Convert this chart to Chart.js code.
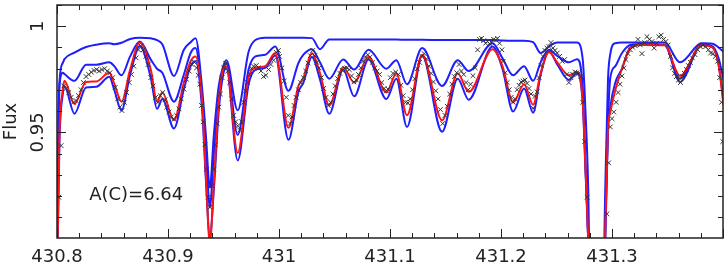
<!DOCTYPE html>
<html>
<head>
<meta charset="utf-8">
<script src="https://cdn.jsdelivr.net/npm/chart.js@4.4.1/dist/chart.umd.min.js"></script>
<style>
  html, body { margin: 0; padding: 0; background: #fff; }
  #wrap { width: 728px; height: 263px; position: relative; }
</style>
</head>
<body>
<div id="wrap"><canvas id="spectrumChart"></canvas></div>
<script>
// Model grid (nm) and fluxes for the four synthetic spectra
const wave = [
  430.8000, 430.8022, 430.8052, 430.8067, 430.8157, 430.8262, 430.8354, 430.8471, 430.8516, 430.8581,
  430.8659, 430.8746, 430.8845, 430.8901, 430.8949, 430.9054, 430.9143, 430.9204, 430.9248, 430.9308,
  430.9341, 430.9377, 430.9413, 430.9457, 430.9496, 430.9526, 430.9628, 430.9726, 430.9787, 430.9876,
  430.9966, 431.0085, 431.0175, 431.0220, 431.0296, 431.0369, 431.0453, 431.0578, 431.0677, 431.0807,
  431.0967, 431.1057, 431.1153, 431.1290, 431.1469, 431.1610, 431.1709, 431.1924, 431.2013, 431.2109,
  431.2208, 431.2289, 431.2357, 431.2432, 431.2507, 431.2612, 431.2686, 431.2737, 431.2761, 431.2785,
  431.2812, 431.2910, 431.2940, 431.2964, 431.2985, 431.3030, 431.3090, 431.3164, 431.3269, 431.3475,
  431.3613, 431.3807, 431.3906, 431.3960, 431.4004
];
const fluxTop = [
  0.9000, 0.9735, 0.9827, 0.9845, 0.9876, 0.9902, 0.9913, 0.9920, 0.9915, 0.9922,
  0.9940, 0.9946, 0.9943, 0.9935, 0.9915, 0.9766, 0.9889, 0.9925, 0.9943, 0.9704,
  0.9488, 0.9241, 0.9488, 0.9719, 0.9810, 0.9840, 0.9604, 0.9880, 0.9935, 0.9946,
  0.9946, 0.9946, 0.9946, 0.9946, 0.9944, 0.9892, 0.9938, 0.9938, 0.9938, 0.9938,
  0.9937, 0.9937, 0.9936, 0.9936, 0.9935, 0.9935, 0.9935, 0.9935, 0.9933, 0.9932,
  0.9932, 0.9925, 0.9874, 0.9905, 0.9923, 0.9923, 0.9923, 0.9840, 0.9600, 0.9250,
  0.8500, 0.8500, 0.9250, 0.9750, 0.9870, 0.9920, 0.9923, 0.9923, 0.9923, 0.9923,
  0.9830, 0.9920, 0.9918, 0.9900, 0.9880
];
const fluxMid = [
  0.8900, 0.9719, 0.9781, 0.9775, 0.9743, 0.9819, 0.9819, 0.9830, 0.9812, 0.9769,
  0.9858, 0.9928, 0.9843, 0.9800, 0.9781, 0.9645, 0.9773, 0.9874, 0.9897, 0.9660,
  0.9430, 0.9148, 0.9400, 0.9650, 0.9790, 0.9827, 0.9488, 0.9796, 0.9858, 0.9866,
  0.9905, 0.9696, 0.9827, 0.9866, 0.9892, 0.9830, 0.9753, 0.9843, 0.9796, 0.9889,
  0.9800, 0.9840, 0.9727, 0.9897, 0.9719, 0.9840, 0.9789, 0.9920, 0.9850, 0.9769,
  0.9812, 0.9743, 0.9830, 0.9889, 0.9860, 0.9830, 0.9845, 0.9700, 0.9350, 0.9007,
  0.8500, 0.8500, 0.9050, 0.9550, 0.9758, 0.9812, 0.9874, 0.9912, 0.9915, 0.9912,
  0.9753, 0.9915, 0.9905, 0.9850, 0.9750
];
const fluxFit = [
  0.8800, 0.9489, 0.9700, 0.9743, 0.9634, 0.9738, 0.9740, 0.9781, 0.9730, 0.9645,
  0.9796, 0.9923, 0.9796, 0.9645, 0.9688, 0.9557, 0.9735, 0.9835, 0.9858, 0.9642,
  0.9300, 0.8980, 0.9260, 0.9642, 0.9796, 0.9812, 0.9403, 0.9758, 0.9804, 0.9812,
  0.9874, 0.9522, 0.9719, 0.9758, 0.9874, 0.9780, 0.9627, 0.9807, 0.9735, 0.9855,
  0.9688, 0.9778, 0.9581, 0.9866, 0.9557, 0.9778, 0.9691, 0.9892, 0.9812, 0.9642,
  0.9727, 0.9630, 0.9780, 0.9877, 0.9830, 0.9769, 0.9784, 0.9642, 0.9333, 0.9007,
  0.8500, 0.8500, 0.9050, 0.9519, 0.9596, 0.9700, 0.9800, 0.9897, 0.9912, 0.9910,
  0.9766, 0.9911, 0.9900, 0.9820, 0.9630
];
const fluxLow = [
  0.8750, 0.9450, 0.9680, 0.9719, 0.9588, 0.9712, 0.9715, 0.9762, 0.9700, 0.9604,
  0.9773, 0.9907, 0.9758, 0.9611, 0.9657, 0.9519, 0.9704, 0.9812, 0.9835, 0.9600,
  0.9280, 0.9010, 0.9230, 0.9600, 0.9770, 0.9804, 0.9368, 0.9727, 0.9795, 0.9804,
  0.9862, 0.9465, 0.9691, 0.9735, 0.9855, 0.9750, 0.9588, 0.9796, 0.9670, 0.9843,
  0.9657, 0.9753, 0.9526, 0.9861, 0.9503, 0.9753, 0.9654, 0.9905, 0.9800, 0.9599,
  0.9707, 0.9593, 0.9770, 0.9882, 0.9820, 0.9747, 0.9778, 0.9630, 0.9320, 0.9000,
  0.8500, 0.8500, 0.9000, 0.9500, 0.9620, 0.9735, 0.9800, 0.9900, 0.9915, 0.9912,
  0.9738, 0.9913, 0.9900, 0.9820, 0.9650
];

// Observed spectrum (crosses)
const obsWave = [
  430.8016, 430.8037, 430.8061, 430.8082, 430.8106, 430.8127, 430.8148, 430.8172, 430.8193, 430.8217,
  430.8238, 430.8262, 430.8286, 430.8309, 430.8333, 430.8357, 430.8381, 430.8405, 430.8429, 430.8453,
  430.8477, 430.8501, 430.8525, 430.8546, 430.8567, 430.8585, 430.8606, 430.8627, 430.8650, 430.8671,
  430.8692, 430.8713, 430.8734, 430.8755, 430.8776, 430.8800, 430.8821, 430.8845, 430.8865, 430.8889,
  430.8910, 430.8931, 430.8952, 430.8973, 430.8988, 430.9009, 430.9030, 430.9054, 430.9078, 430.9099,
  430.9119, 430.9143, 430.9167, 430.9191, 430.9215, 430.9239, 430.9257, 430.9272, 430.9287, 430.9302,
  430.9317, 430.9332, 430.9347, 430.9362, 430.9377, 430.9398, 430.9413, 430.9428, 430.9442, 430.9457,
  430.9472, 430.9487, 430.9502, 430.9520, 430.9538, 430.9556, 430.9574, 430.9592, 430.9610, 430.9628,
  430.9646, 430.9664, 430.9682, 430.9700, 430.9717, 430.9735, 430.9753, 430.9771, 430.9795, 430.9816,
  430.9837, 430.9861, 430.9882, 430.9906, 430.9927, 430.9951, 430.9975, 430.9995, 431.0005, 431.0026,
  431.0047, 431.0065, 431.0083, 431.0100, 431.0118, 431.0136, 431.0154, 431.0175, 431.0196, 431.0220,
  431.0241, 431.0262, 431.0283, 431.0304, 431.0322, 431.0340, 431.0361, 431.0382, 431.0402, 431.0423,
  431.0444, 431.0465, 431.0486, 431.0507, 431.0528, 431.0549, 431.0570, 431.0591, 431.0612, 431.0633,
  431.0654, 431.0675, 431.0696, 431.0716, 431.0737, 431.0758, 431.0779, 431.0800, 431.0821, 431.0842,
  431.0863, 431.0884, 431.0905, 431.0926, 431.0947, 431.0968, 431.0982, 431.1003, 431.1027, 431.1051,
  431.1075, 431.1098, 431.1119, 431.1140, 431.1161, 431.1182, 431.1203, 431.1224, 431.1245, 431.1266,
  431.1287, 431.1308, 431.1329, 431.1350, 431.1371, 431.1391, 431.1412, 431.1433, 431.1454, 431.1475,
  431.1496, 431.1517, 431.1538, 431.1559, 431.1580, 431.1601, 431.1622, 431.1643, 431.1664, 431.1685,
  431.1705, 431.1726, 431.1747, 431.1768, 431.1789, 431.1807, 431.1825, 431.1843, 431.1861, 431.1879,
  431.1897, 431.1915, 431.1933, 431.1951, 431.1969, 431.1987, 431.2008, 431.2020, 431.2038, 431.2056,
  431.2074, 431.2091, 431.2109, 431.2127, 431.2145, 431.2163, 431.2181, 431.2199, 431.2217, 431.2235,
  431.2253, 431.2271, 431.2289, 431.2307, 431.2325, 431.2343, 431.2361, 431.2378, 431.2396, 431.2414,
  431.2432, 431.2450, 431.2468, 431.2486, 431.2507, 431.2528, 431.2552, 431.2573, 431.2594, 431.2612,
  431.2630, 431.2648, 431.2666, 431.2683, 431.2701, 431.2719, 431.2737, 431.2755, 431.2776, 431.2955,
  431.2970, 431.2985, 431.3000, 431.3016, 431.3037, 431.3055, 431.3072, 431.3090, 431.3108, 431.3126,
  431.3144, 431.3165, 431.3186, 431.3210, 431.3234, 431.3255, 431.3270, 431.3294, 431.3315, 431.3336,
  431.3360, 431.3380, 431.3401, 431.3422, 431.3443, 431.3464, 431.3485, 431.3506, 431.3527, 431.3545,
  431.3563, 431.3581, 431.3599, 431.3617, 431.3635, 431.3652, 431.3670, 431.3688, 431.3706, 431.3724,
  431.3748, 431.3772, 431.3796, 431.3820, 431.3844, 431.3868, 431.3889, 431.3910, 431.3931, 431.3952,
  431.3970, 431.3987, 431.3998
];
const obsFlux = [
  0.9195, 0.9438, 0.9719, 0.9707, 0.9688, 0.9665, 0.9642, 0.9650, 0.9673, 0.9701,
  0.9735, 0.9763, 0.9773, 0.9784, 0.9792, 0.9796, 0.9789, 0.9796, 0.9800, 0.9789,
  0.9781, 0.9758, 0.9712, 0.9658, 0.9619, 0.9603, 0.9642, 0.9688, 0.9735, 0.9773,
  0.9812, 0.9851, 0.9889, 0.9908, 0.9889, 0.9858, 0.9820, 0.9758, 0.9719, 0.9665,
  0.9642, 0.9673, 0.9688, 0.9654, 0.9619, 0.9596, 0.9573, 0.9562, 0.9580, 0.9611,
  0.9658, 0.9704, 0.9750, 0.9789, 0.9820, 0.9830, 0.9804, 0.9769, 0.9727, 0.9627,
  0.9550, 0.9442, 0.9326, 0.9195, 0.9148, 0.9249, 0.9326, 0.9442, 0.9542, 0.9619,
  0.9681, 0.9758, 0.9804, 0.9824, 0.9789, 0.9735, 0.9658, 0.9580, 0.9550, 0.9531,
  0.9511, 0.9550, 0.9642, 0.9696, 0.9735, 0.9773, 0.9800, 0.9812, 0.9815, 0.9804,
  0.9789, 0.9763, 0.9769, 0.9796, 0.9820, 0.9840, 0.9877, 0.9886, 0.9858, 0.9804,
  0.9742, 0.9665, 0.9580, 0.9542, 0.9573, 0.9627, 0.9665, 0.9701, 0.9735, 0.9758,
  0.9789, 0.9827, 0.9861, 0.9886, 0.9861, 0.9830, 0.9804, 0.9758, 0.9707, 0.9665,
  0.9627, 0.9642, 0.9681, 0.9719, 0.9753, 0.9778, 0.9792, 0.9802, 0.9804, 0.9796,
  0.9766, 0.9738, 0.9747, 0.9773, 0.9804, 0.9835, 0.9855, 0.9866, 0.9855, 0.9830,
  0.9804, 0.9789, 0.9773, 0.9735, 0.9707, 0.9696, 0.9704, 0.9758, 0.9778, 0.9784,
  0.9773, 0.9722, 0.9673, 0.9642, 0.9639, 0.9658, 0.9701, 0.9753, 0.9800, 0.9830,
  0.9858, 0.9871, 0.9846, 0.9812, 0.9778, 0.9738, 0.9696, 0.9658, 0.9608, 0.9542,
  0.9580, 0.9623, 0.9681, 0.9727, 0.9763, 0.9781, 0.9820, 0.9789, 0.9773, 0.9735,
  0.9701, 0.9727, 0.9767, 0.9804, 0.9889, 0.9938, 0.9943, 0.9932, 0.9920, 0.9928,
  0.9917, 0.9923, 0.9938, 0.9935, 0.9943, 0.9920, 0.9889, 0.9835, 0.9781, 0.9735,
  0.9701, 0.9665, 0.9642, 0.9658, 0.9701, 0.9722, 0.9738, 0.9742, 0.9747, 0.9731,
  0.9707, 0.9681, 0.9614, 0.9670, 0.9691, 0.9758, 0.9815, 0.9858, 0.9886, 0.9897,
  0.9904, 0.9923, 0.9897, 0.9886, 0.9874, 0.9858, 0.9835, 0.9843, 0.9773, 0.9735,
  0.9758, 0.9773, 0.9784, 0.9781, 0.9778, 0.9763, 0.9642, 0.9457, 0.9195, 0.9117,
  0.9357, 0.9526, 0.9565, 0.9596, 0.9642, 0.9688, 0.9727, 0.9766, 0.9804, 0.9843,
  0.9871, 0.9889, 0.9901, 0.9908, 0.9938, 0.9912, 0.9871, 0.9923, 0.9951, 0.9938,
  0.9928, 0.9897, 0.9920, 0.9951, 0.9958, 0.9938, 0.9928, 0.9912, 0.9858, 0.9804,
  0.9778, 0.9763, 0.9747, 0.9735, 0.9763, 0.9778, 0.9796, 0.9815, 0.9830, 0.9851,
  0.9866, 0.9889, 0.9904, 0.9912, 0.9904, 0.9889, 0.9874, 0.9871, 0.9858, 0.9835,
  0.9758, 0.9642, 0.9457
];

// Axis ticks and labels
const xMajorTicks = [430.8, 430.9, 431.0, 431.1, 431.2, 431.3, 431.4];
const xTickLabels = ['430.8', '430.9', '431', '431.1', '431.2', '431.3', ''];
const yMajorTicks = [0.90, 0.95, 1.00];
const yTickLabels = ['', '0.95', '1'];
const yTitle = 'Flux';
const noteText = 'A(C)=6.64';

const TEXT_FONT = '18px "DejaVu Sans", sans-serif';

function toPoints(xs, ys) {
    return xs.map((v, i) => ({ x: v, y: ys[i] }));
}

// Frame with inward ticks, labels and the note (PGPLOT look)
const framePlugin = {
    id: 'frame',
    afterDatasetsDraw(chart) {
        const { ctx, chartArea: a, scales } = chart;
        const xs = scales.x, ys = scales.y;
        ctx.save();
        ctx.strokeStyle = '#222';
        ctx.lineWidth = 1.5;
        ctx.strokeRect(a.left, a.top, a.right - a.left, a.bottom - a.top);

        ctx.lineWidth = 1;
        ctx.beginPath();
        // x minor ticks every 0.02
        for (let i = 0; i <= 30; i++) {
            const v = 430.8 + i * 0.02;
            const px = Math.round(xs.getPixelForValue(v)) + 0.5;
            const len = (i % 5 === 0) ? 9 : 5;
            ctx.moveTo(px, a.bottom); ctx.lineTo(px, a.bottom - len);
            ctx.moveTo(px, a.top); ctx.lineTo(px, a.top + len);
        }
        // y minor ticks every 0.01
        for (let i = 0; i <= 11; i++) {
            const v = 0.90 + i * 0.01;
            if (v < ys.min - 1e-9 || v > ys.max + 1e-9) continue;
            const py = Math.round(ys.getPixelForValue(v)) + 0.5;
            const len = (i % 5 === 0) ? 9 : 5;
            ctx.moveTo(a.left, py); ctx.lineTo(a.left + len, py);
            ctx.moveTo(a.right, py); ctx.lineTo(a.right - len, py);
        }
        ctx.stroke();

        ctx.fillStyle = '#222';
        ctx.font = TEXT_FONT;
        ctx.textAlign = 'center';
        ctx.textBaseline = 'alphabetic';
        xMajorTicks.forEach((v, i) => {
            if (!xTickLabels[i]) return;
            ctx.fillText(xTickLabels[i], xs.getPixelForValue(v), 262);
        });

        yMajorTicks.forEach((v, i) => {
            if (!yTickLabels[i]) return;
            ctx.save();
            ctx.translate(43, ys.getPixelForValue(v));
            ctx.rotate(-Math.PI / 2);
            ctx.fillText(yTickLabels[i], 0, 0);
            ctx.restore();
        });

        ctx.save();
        ctx.translate(16, (a.top + a.bottom) / 2);
        ctx.rotate(-Math.PI / 2);
        ctx.fillText(yTitle, 0, 0);
        ctx.restore();

        ctx.textAlign = 'left';
        ctx.fillText(noteText, xs.getPixelForValue(430.829), ys.getPixelForValue(0.9184));
        ctx.restore();
    }
};

const lineStyle = {
    showLine: true,
    borderWidth: 2,
    pointRadius: 0,
    cubicInterpolationMode: 'monotone',
    clip: 0
};

const ctx = document.getElementById('spectrumChart').getContext('2d');
new Chart(ctx, {
    type: 'scatter',
    data: {
        datasets: [
            {
                label: 'observed',
                data: toPoints(obsWave, obsFlux),
                pointStyle: 'crossRot',
                pointRadius: 3.3,
                borderWidth: 1,
                borderColor: '#333',
                backgroundColor: '#333',
                showLine: false
            },
            Object.assign({ label: 'best fit', data: toPoints(wave, fluxFit), borderColor: '#ff1414' }, lineStyle),
            Object.assign({ label: 'low', data: toPoints(wave, fluxLow), borderColor: '#1e1eff' }, lineStyle),
            Object.assign({ label: 'mid', data: toPoints(wave, fluxMid), borderColor: '#1e1eff' }, lineStyle),
            Object.assign({ label: 'top', data: toPoints(wave, fluxTop), borderColor: '#1e1eff' }, lineStyle)
        ]
    },
    options: {
        responsive: true,
        maintainAspectRatio: false,
        animation: false,
        events: [],
        layout: { padding: { left: 57, right: 1, top: 1, bottom: 25 } },
        plugins: {
            legend: { display: false },
            tooltip: { enabled: false }
        },
        scales: {
            x: { type: 'linear', min: 430.8, max: 431.4, display: false },
            y: { type: 'linear', min: 0.9003, max: 1.0100, display: false }
        }
    },
    plugins: [framePlugin]
});
</script>
</body>
</html>
